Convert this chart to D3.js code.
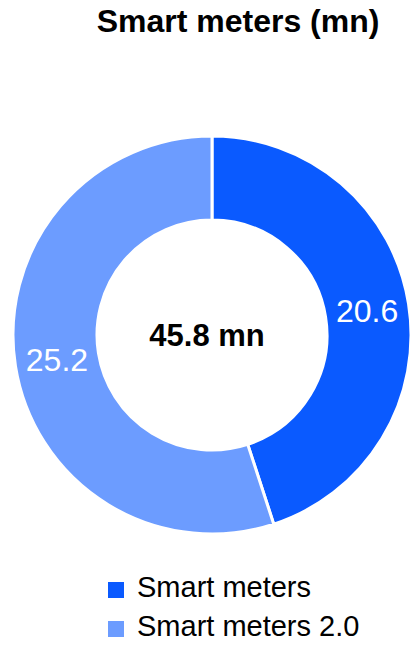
<!DOCTYPE html>
<html>
<head>
<meta charset="utf-8">
<script src="https://cdn.jsdelivr.net/npm/d3@7"></script>
<style>
	body { margin: 0; background: #fff; }
	svg text { font-family: "Liberation Sans", Arial, sans-serif; }
</style>
</head>
<body>
<div id="chart"></div>
<script>
"use strict";

// données
var categories = ["Smart meters", "Smart meters 2.0"];
var valeurs = [20.6, 25.2];
var couleurs = ["#0a5aff", "#6c9cff"];
var titre = "Smart meters (mn)";
var total = "45.8 mn";

var largeur = 414, hauteur = 648;
var cx = 212, cy = 335, rExt = 199, rInt = 115;

var svg = d3.select("#chart").append("svg")
	.attr("width", largeur)
	.attr("height", hauteur);

// titre
svg.append("text")
	.attr("x", 238)
	.attr("y", 32)
	.attr("text-anchor", "middle")
	.style("font-size", "32px")
	.style("font-weight", "bold")
	.text(titre);

// anneau
var pie = d3.pie().sort(null).value(d => d);
var arc = d3.arc().innerRadius(rInt).outerRadius(rExt);
var arcLabel = d3.arc().innerRadius((rInt + rExt) / 2).outerRadius((rInt + rExt) / 2);

var gAnneau = svg.append("g")
	.attr("transform", "translate(" + cx + "," + cy + ")");

gAnneau.selectAll("path")
	.data(pie(valeurs))
	.enter()
		.append("path")
		.attr("d", arc)
		.attr("fill", (d, i) => couleurs[i])
		.attr("stroke", "#fff")
		.attr("stroke-width", 3);

gAnneau.selectAll("text.val")
	.data(pie(valeurs))
	.enter()
		.append("text")
		.attr("class", "val")
		.attr("transform", d => "translate(" + arcLabel.centroid(d) + ")")
		.attr("text-anchor", "middle")
		.attr("dy", "0.36em")
		.attr("fill", "#fff")
		.style("font-size", "32px")
		.text(d => d.data.toFixed(1));

// total au centre
gAnneau.append("text")
	.attr("x", -5)
	.attr("y", 11)
	.attr("text-anchor", "middle")
	.style("font-size", "31px")
	.style("font-weight", "bold")
	.text(total);

// légende
var gLegende = svg.append("g")
	.attr("transform", "translate(108,582)");

var items = gLegende.selectAll("g")
	.data(categories)
	.enter()
		.append("g")
		.attr("transform", (d, i) => "translate(0," + i * 39 + ")");

items.append("rect")
	.attr("width", 16)
	.attr("height", 16)
	.attr("fill", (d, i) => couleurs[i]);

items.append("text")
	.attr("x", 29)
	.attr("y", 15)
	.style("font-size", "29px")
	.text(d => d);
</script>
</body>
</html>
